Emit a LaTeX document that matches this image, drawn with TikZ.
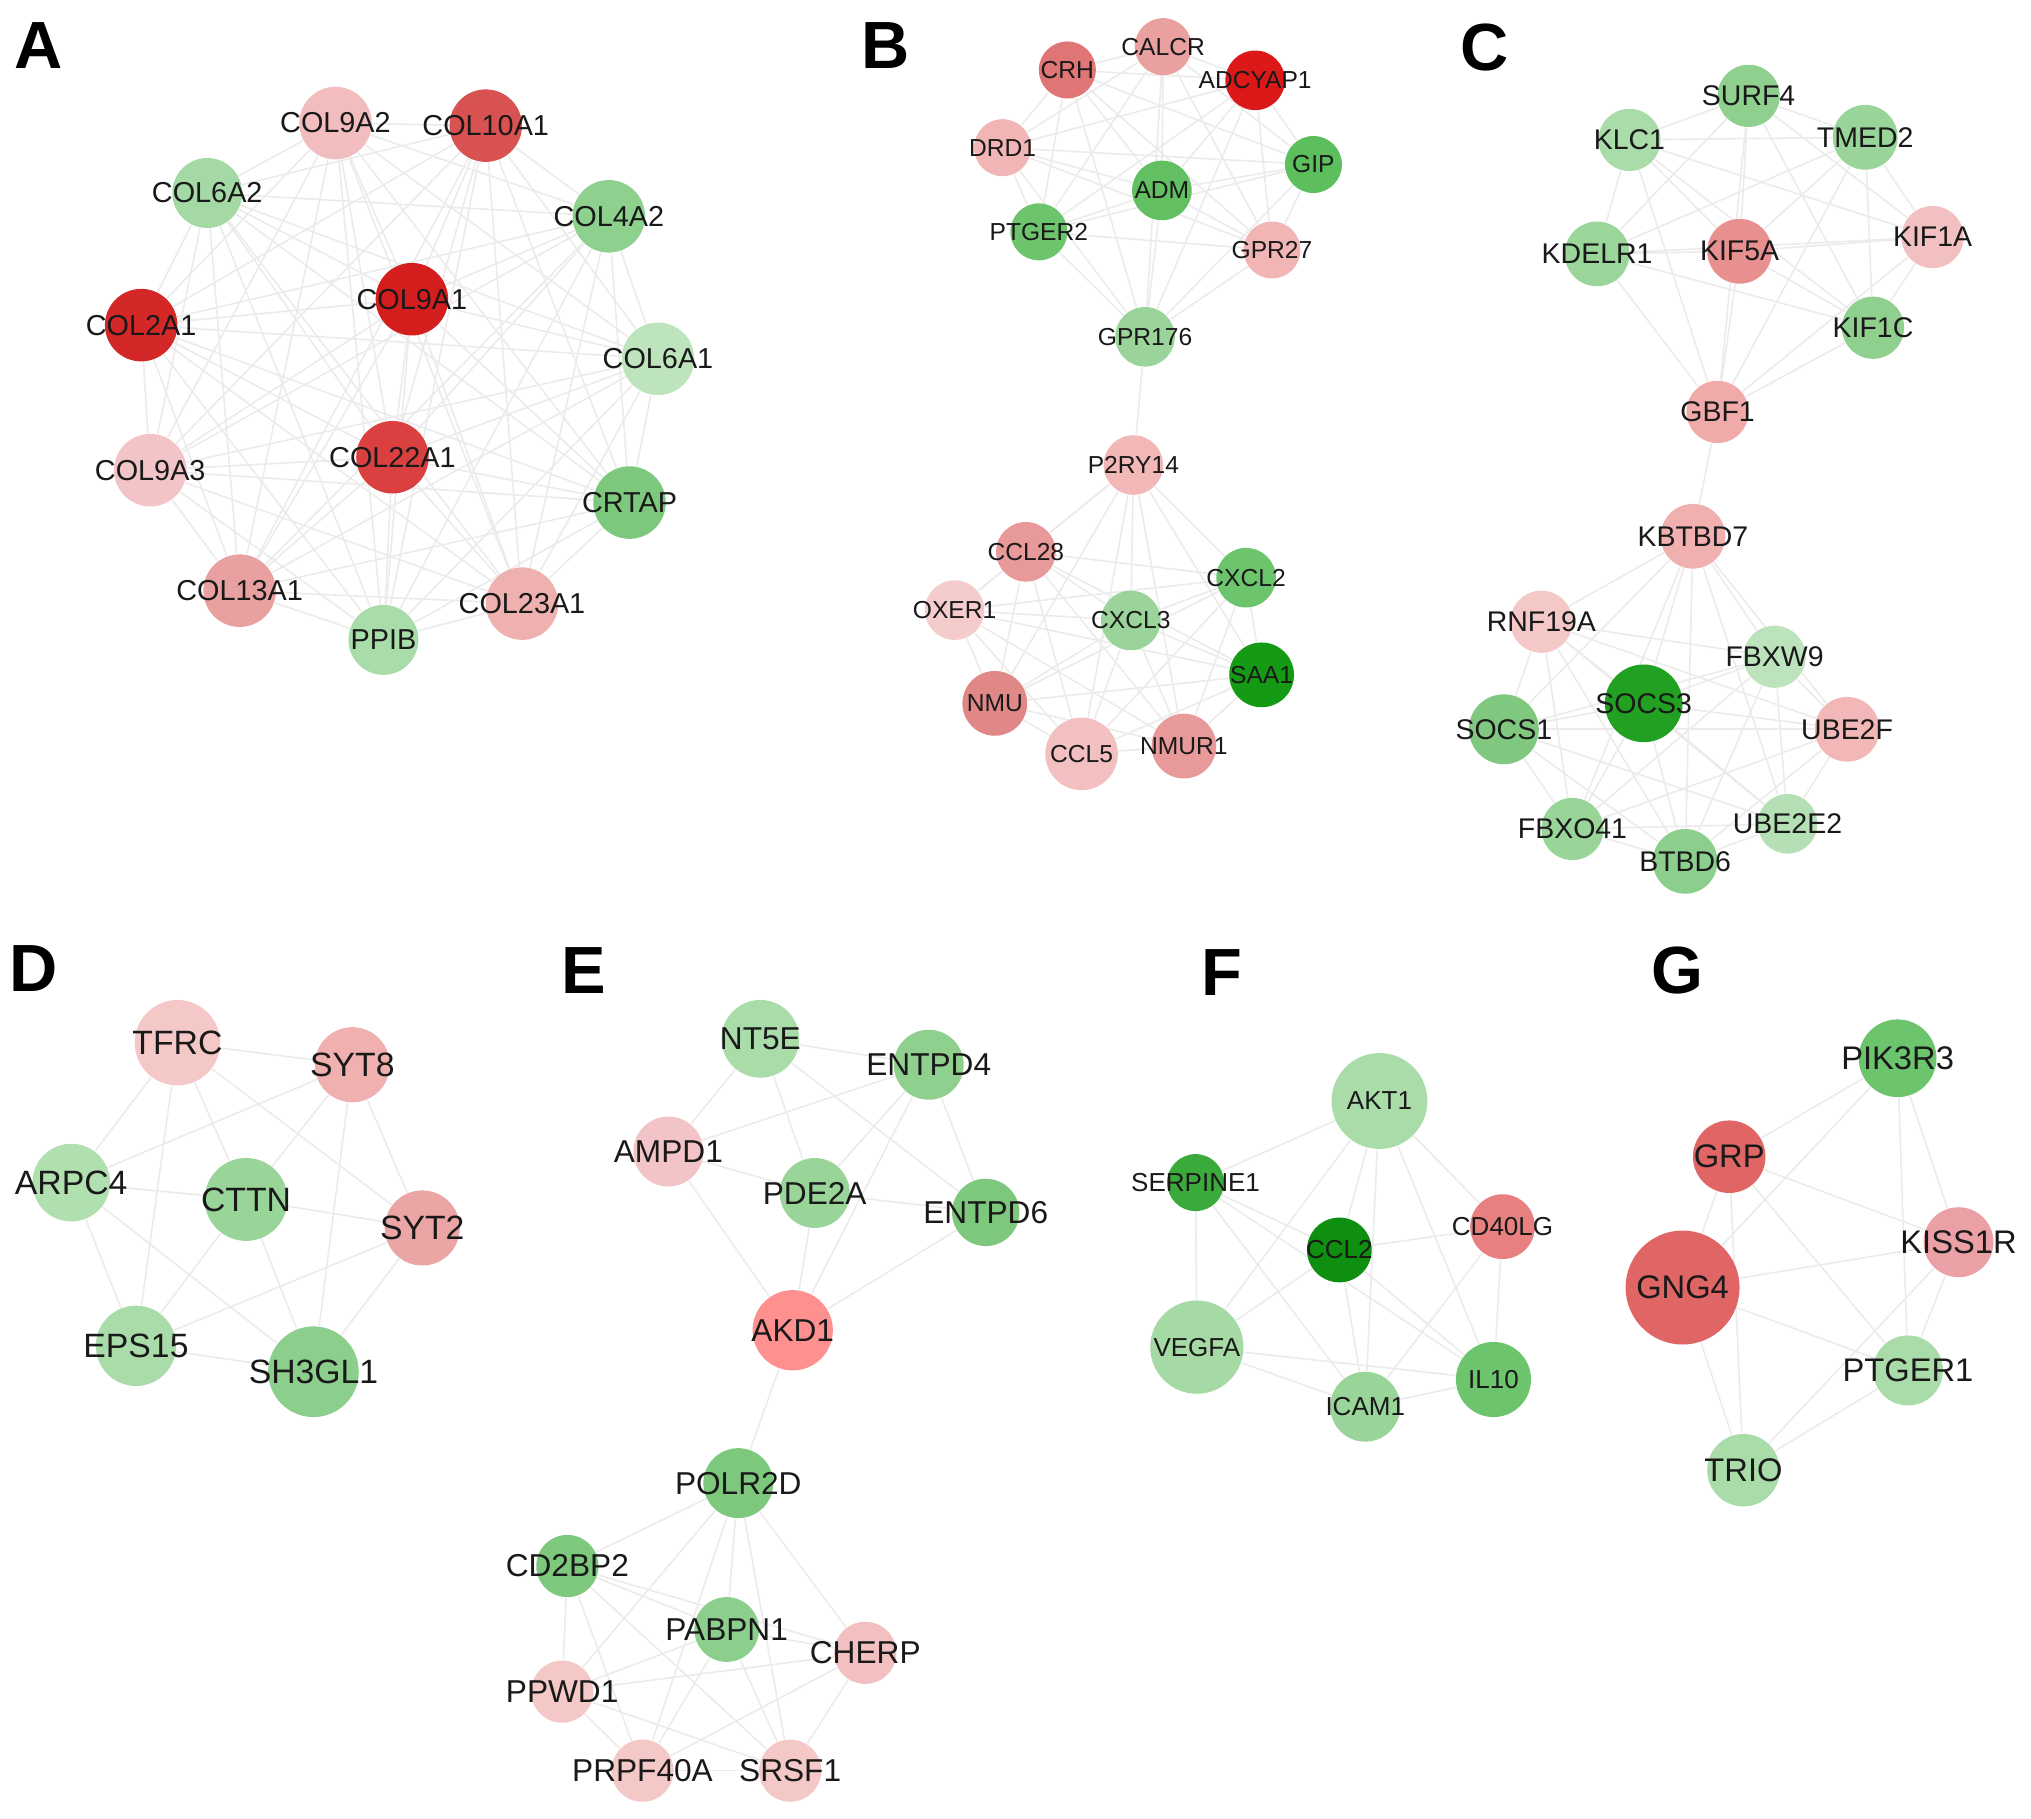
\documentclass[tikz,border=0pt]{standalone}
\usepackage{fontspec}
\setmainfont{Liberation Sans}
\pgfdeclarelayer{bg}
\pgfsetlayers{bg,main}
\tikzset{
 gn/.style 2 args={circle, inner sep=0pt, draw=none, minimum size=#1*0.025906cm,
   /utils/exec={\definecolor{tmpc}{HTML}{#2}}, fill=tmpc},
 lnk/.style={draw=black!8, line width=0.45pt},
 plet/.style={font=\fontsize{19}{20}\selectfont\bfseries, text=black, inner sep=0pt},
}
\newcommand\gnode[5]{\node[gn={#4}{#5}, label={center:#2}] (#1) at (#3) {};}
\newcommand\cliq[1]{\foreach \x [count=\i] in {#1}{\foreach \y [count=\j] in {#1}{\ifnum\j>\i\relax\draw[lnk] (\x) -- (\y);\fi}}}
\newcommand\links[1]{\foreach \x/\y in {#1}{\draw[lnk] (\x) -- (\y);}}
\begin{document}
\begin{tikzpicture}[x=0.012953cm, y=-0.012953cm, every label/.style={text=black!90, inner sep=0pt}]
\useasboundingbox (0,0) rectangle (1568,1404);
% panel letters
\node[plet] (LA) at (30,35) {A};
\node[plet] (LB) at (684,35) {B};
\node[plet] (LC) at (1146,37) {C};
\node[plet] (LD) at (26,748) {D};
\node[plet] (LE) at (451,749) {E};
\node[plet] (LF) at (943,751) {F};
\node[plet] (LG) at (1295,749) {G};
% ---------------- A
\begin{scope}[every label/.append style={font=\fontsize{8.2}{9}\selectfont}]
\gnode{col9a2}{COL9A2}{259,95}{28}{F2BDBE}
\gnode{col10a1}{COL10A1}{375,97}{28}{D95252}
\gnode{col6a2}{COL6A2}{160,149}{27}{A4D8A4}
\gnode{col4a2}{COL4A2}{470,167}{28}{8ED08E}
\gnode{col9a1}{COL9A1}{318,231}{28}{D41E1E}
\gnode{col2a1}{COL2A1}{109,251}{28}{D42828}
\gnode{col6a1}{COL6A1}{508,277}{28}{BDE4BD}
\gnode{col22a1}{COL22A1}{303,353}{28}{DA4040}
\gnode{col9a3}{COL9A3}{116,363}{28}{F3C4C7}
\gnode{crtap}{CRTAP}{486,388}{28}{7DC87D}
\gnode{col13a1}{COL13A1}{185,456}{28}{E9A0A0}
\gnode{col23a1}{COL23A1}{403,466}{28}{EFB0B0}
\gnode{ppib}{PPIB}{296,494}{27}{A8DCA8}
\end{scope}
% ---------------- B
\begin{scope}[every label/.append style={font=\fontsize{7}{8}\selectfont}]
\gnode{crh}{CRH}{824,54}{22}{E07575}
\gnode{calcr}{CALCR}{898,36}{22}{EBA0A0}
\gnode{adcyap1}{ADCYAP1}{969,62}{23}{DD1818}
\gnode{drd1}{DRD1}{774,114}{22}{F2B5B5}
\gnode{gip}{GIP}{1014,127}{22}{5CBE5C}
\gnode{adm}{ADM}{897,147}{23}{62C062}
\gnode{ptger2}{PTGER2}{802,179}{22}{6CC46C}
\gnode{gpr27}{GPR27}{982,193}{22}{F2B5B5}
\gnode{gpr176}{GPR176}{884,260}{23}{9AD49A}
\gnode{p2ry14}{P2RY14}{875,359}{23}{F2B8B8}
\gnode{ccl28}{CCL28}{792,426}{23}{E89A9A}
\gnode{cxcl2}{CXCL2}{962,446}{23}{6CC46C}
\gnode{oxer1}{OXER1}{737,471}{23}{F5CCCC}
\gnode{cxcl3}{CXCL3}{873,479}{23}{9AD49A}
\gnode{saa1}{SAA1}{974,521}{25}{159A15}
\gnode{nmu}{NMU}{768,543}{25}{E08888}
\gnode{nmur1}{NMUR1}{914,576}{25}{E89A9A}
\gnode{ccl5}{CCL5}{835,582}{28}{F2C0C0}
\end{scope}
% ---------------- C
\begin{scope}[every label/.append style={font=\fontsize{8.1}{9}\selectfont}]
\gnode{surf4}{SURF4}{1350,74}{24}{8FD08F}
\gnode{klc1}{KLC1}{1258,108}{24}{AADCAA}
\gnode{tmed2}{TMED2}{1440,106}{25}{99D499}
\gnode{kdelr1}{KDELR1}{1233,196}{25}{9AD69A}
\gnode{kif5a}{KIF5A}{1343,194}{25}{E89090}
\gnode{kif1a}{KIF1A}{1492,183}{24}{F2C0C0}
\gnode{kif1c}{KIF1C}{1446,253}{24}{8FD08F}
\gnode{gbf1}{GBF1}{1326,318}{24}{F0AAAA}
\gnode{kbtbd7}{KBTBD7}{1307,414}{25}{F0B0B0}
\gnode{rnf19a}{RNF19A}{1190,480}{24}{F5C8C8}
\gnode{fbxw9}{FBXW9}{1370,507}{24}{BDE3BD}
\gnode{socs3}{SOCS3}{1269,543}{30}{22A022}
\gnode{socs1}{SOCS1}{1161,563}{27}{80C880}
\gnode{ube2f}{UBE2F}{1426,563}{25}{F2B8B8}
\gnode{fbxo41}{FBXO41}{1214,640}{24}{99D499}
\gnode{ube2e2}{UBE2E2}{1380,636}{23}{B5E0B5}
\gnode{btbd6}{BTBD6}{1301,665}{25}{8CCE8C}
\end{scope}
% ---------------- D
\begin{scope}[every label/.append style={font=\fontsize{9.6}{10}\selectfont}]
\gnode{tfrc}{TFRC}{137,805}{33}{F5C8C8}
\gnode{syt8}{SYT8}{272,822}{29}{F0B0B0}
\gnode{arpc4}{ARPC4}{55,913}{30}{B0DFB0}
\gnode{cttn}{CTTN}{190,926}{32}{99D499}
\gnode{syt2}{SYT2}{326,948}{29}{EBA5A5}
\gnode{eps15}{EPS15}{105,1039}{31}{AADCAA}
\gnode{sh3gl1}{SH3GL1}{242,1059}{35}{8CCF8C}
\end{scope}
% ---------------- E
\begin{scope}[every label/.append style={font=\fontsize{9}{10}\selectfont}]
\gnode{nt5e}{NT5E}{587,802}{30}{AADCAA}
\gnode{entpd4}{ENTPD4}{717,822}{27}{8FD08F}
\gnode{ampd1}{AMPD1}{516,889}{27}{F2C4C8}
\gnode{pde2a}{PDE2A}{629,921}{27}{99D499}
\gnode{entpd6}{ENTPD6}{761,936}{26}{7EC87E}
\gnode{akd1}{AKD1}{612,1027}{31}{FF9090}
\gnode{polr2d}{POLR2D}{570,1145}{27}{7EC87E}
\gnode{cd2bp2}{CD2BP2}{438,1209}{24}{7EC87E}
\gnode{pabpn1}{PABPN1}{561,1258}{25}{8CCF8C}
\gnode{cherp}{CHERP}{668,1276}{24}{F2C0C0}
\gnode{ppwd1}{PPWD1}{434,1306}{24}{F5C8C8}
\gnode{prpf40a}{PRPF40A}{496,1367}{24}{F5C8C8}
\gnode{srsf1}{SRSF1}{610,1367}{24}{F5C8C8}
\end{scope}
% ---------------- F
\begin{scope}[every label/.append style={font=\fontsize{7.4}{8}\selectfont}]
\gnode{akt1}{AKT1}{1065,850}{37}{AADCAA}
\gnode{serpine1}{SERPINE1}{923,913}{22}{3AAA3A}
\gnode{cd40lg}{CD40LG}{1160,947}{25}{E88080}
\gnode{ccl2}{CCL2}{1034,965}{25}{0F8F0F}
\gnode{vegfa}{VEGFA}{924,1040}{36}{A5DAA5}
\gnode{il10}{IL10}{1153,1065}{29}{6CC46C}
\gnode{icam1}{ICAM1}{1054,1086}{27}{99D499}
\end{scope}
% ---------------- G
\begin{scope}[every label/.append style={font=\fontsize{9.3}{10}\selectfont}]
\gnode{pik3r3}{PIK3R3}{1465,817}{30}{6CC46C}
\gnode{grp}{GRP}{1335,893}{28}{E06666}
\gnode{kiss1r}{KISS1R}{1512,959}{27}{EBA0A5}
\gnode{gng4}{GNG4}{1299,994}{44}{E06666}
\gnode{ptger1}{PTGER1}{1473,1058}{27}{AADCAA}
\gnode{trio}{TRIO}{1346,1135}{28}{AADCAA}
\end{scope}
% ---------------- edges
\begin{pgfonlayer}{bg}
\cliq{col9a2,col10a1,col6a2,col4a2,col9a1,col2a1,col6a1,col22a1,col9a3,crtap,col13a1,col23a1,ppib}
\cliq{crh,calcr,adcyap1,drd1,gip,adm,ptger2,gpr27,gpr176}
\cliq{p2ry14,ccl28,cxcl2,oxer1,cxcl3,saa1,nmu,nmur1,ccl5}
\links{gpr176/p2ry14}
\cliq{surf4,klc1,tmed2,kdelr1,kif5a,kif1a,kif1c,gbf1}
\cliq{kbtbd7,rnf19a,fbxw9,socs3,socs1,ube2f,fbxo41,ube2e2,btbd6}
\links{gbf1/kbtbd7}
\links{tfrc/syt8,tfrc/arpc4,tfrc/cttn,tfrc/eps15,tfrc/syt2,syt8/arpc4,syt8/cttn,syt8/syt2,syt8/sh3gl1,arpc4/cttn,arpc4/eps15,arpc4/sh3gl1,cttn/syt2,cttn/eps15,cttn/sh3gl1,syt2/eps15,syt2/sh3gl1,eps15/sh3gl1}
\links{nt5e/entpd4,nt5e/ampd1,nt5e/pde2a,nt5e/entpd6,entpd4/ampd1,entpd4/pde2a,entpd4/entpd6,entpd4/akd1,ampd1/pde2a,ampd1/akd1,pde2a/entpd6,pde2a/akd1,entpd6/akd1,akd1/polr2d}
\cliq{polr2d,cd2bp2,pabpn1,cherp,ppwd1,prpf40a,srsf1}
\links{akt1/serpine1,akt1/cd40lg,akt1/ccl2,akt1/vegfa,akt1/il10,akt1/icam1,serpine1/ccl2,serpine1/vegfa,serpine1/icam1,serpine1/il10,ccl2/cd40lg,ccl2/vegfa,ccl2/icam1,ccl2/il10,cd40lg/il10,cd40lg/icam1,vegfa/icam1,vegfa/il10,icam1/il10}
\links{pik3r3/grp,pik3r3/gng4,pik3r3/kiss1r,pik3r3/ptger1,grp/kiss1r,grp/ptger1,grp/trio,grp/gng4,gng4/kiss1r,gng4/ptger1,gng4/trio,kiss1r/ptger1,kiss1r/trio,ptger1/trio}
\end{pgfonlayer}
\end{tikzpicture}
\end{document}
